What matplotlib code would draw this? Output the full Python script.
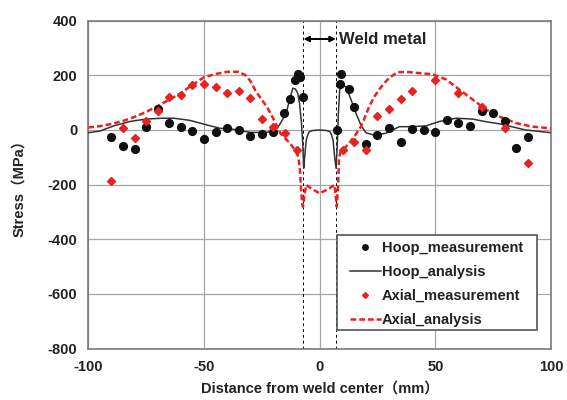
import matplotlib
matplotlib.use("Agg")
import matplotlib.pyplot as plt
from matplotlib.patches import Rectangle

plt.rcParams['font.family'] = ['Liberation Sans', 'Noto Sans CJK JP', 'DejaVu Sans']
plt.rcParams['font.weight'] = 'bold'
plt.rcParams['axes.unicode_minus'] = False

# Hoop stress, measured
hoop_meas_x = [-90, -85, -80, -75, -70, -65, -60, -55, -50, -45, -40, -35, -30, -25, -20,
               -15.4, -12.8, -10.7, -9.5, -8.5, -7.3,
               7.7, 8.6, 9.4, 12.5, 14.7, 20, 25, 30, 35, 40, 45, 50, 55, 60, 65, 70, 75, 80, 85, 90]
hoop_meas_y = [-25, -58, -68, 10, 77, 27, 10, -4, -32, -6, 9, 1, -22, -15, -6,
               62, 112, 182, 205, 195, 122,
               0, 170, 205, 150, 83, -53, -19, 7, -43, 2, 0, -6, 35, 25, 15, 69, 62, 31, -65, -27]

# Hoop stress, analysis
hoop_ana_x = [-100, -95, -89, -82, -75, -68, -63, -56, -49, -43, -37, -30, -23, -19.5, -17.4,
              -14.5, -13, -11.6, -10.5, -9.5, -8.7, -7.9, -7.3, -6.9, -6.5, -5.8, -5, -4.4, -3,
              0, 3, 4.4, 5, 5.8, 6.5, 7.1, 7.6, 8.1, 8.6, 9.0, 9.8, 11.4, 13.6, 16, 18, 20,
              23.6, 28.6, 34.4, 40, 46, 51.7, 59, 66, 72, 78, 89, 100]
hoop_ana_y = [-10, -4, 15, 31, 40, 43, 43, 35, 19, 6, 2, -9, -9, -2, 18,
              61, 110, 153, 150, 135, 98, 30, -49, -140, -100, -37, -15, -6, -2,
              0, -2, -6, -15, -37, -100, -140, -60, 60, 140, 165, 163, 158, 110, 55, 15, -10,
              -19, -12, 12, 12, 15, 31, 43, 40, 30, 22, 0, -10]

# Axial stress, measured
axial_meas_x = [-90, -85, -80, -75, -70, -65, -60, -55, -50, -45, -40, -35, -30, -25, -20, -15, -10,
                10, 15, 20, 25, 30, 35, 40, 50, 60, 70, 80, 90]
axial_meas_y = [-185, 9, -31, 31, 68, 120, 127, 163, 168, 158, 137, 143, 118, 41, 10, -12, -74,
                -74, -45, -74, 52, 78, 115, 141, 184, 135, 83, 7, -120]

# Axial stress, analysis
axial_ana_x = [-100, -95, -90, -85, -80, -75, -70, -65, -60, -55, -50, -45, -40, -35, -32, -30,
               -27.5, -25, -22.5, -20.5, -18.5, -17, -15, -12.8, -10.5, -9.2, -8.5, -8, -7.6, -7.2,
               -6.6, -5.8, -3.7, 0, 4.2, 6.4, 6.9, 7.4, 8.0, 8.4, 9.1, 11.3, 13, 14.9, 16.5, 17.8,
               19.5, 21.4, 23.5, 25.7, 28, 30.1, 33.7, 38.7, 43, 48.8, 54.6, 60.4, 66.2, 72, 77.7,
               85, 92, 100]
axial_ana_y = [9, 14, 22, 33, 48, 66, 88, 111, 135, 165, 193, 205, 213, 213, 200, 180,
               140, 111, 80, 49, 15, -12, -30, -49, -75, -99, -150, -220, -268, -281,
               -240, -201, -214, -232, -214, -201, -240, -281, -200, -100, -79, -62, -45, -25, -5, 12,
               45, 86, 120, 148, 172, 191, 212, 212, 208, 204, 185, 148, 111, 74, 49,
               25, 12, 6]

weld_edges = [-7, 7]
x_ticks = [-100, -50, 0, 50, 100]
y_ticks = [-800, -600, -400, -200, 0, 200, 400]

red = '#e8221f'
dark = '#333333'

fig = plt.figure(figsize=(5.67, 4.0), dpi=100)
ax = fig.add_axes([88.3 / 567, 1 - 348.5 / 400, (551 - 88.3) / 567, (348.5 - 20.7) / 400])

ax.set_xlim(-100, 100)
ax.set_ylim(-800, 400)
ax.set_xticks(x_ticks)
ax.set_yticks(y_ticks)
ax.grid(True, color='#a6a6a6', lw=0.9)
ax.set_axisbelow(True)
ax.tick_params(length=0, pad=8, labelsize=10.5, labelcolor='#222222')
for lab in ax.get_xticklabels() + ax.get_yticklabels():
    lab.set_fontweight('bold')
for sp in ax.spines.values():
    sp.set_color('#7a7a7a')
    sp.set_linewidth(1.2)

for xe in weld_edges:
    ax.axvline(xe, color='black', lw=0.7, dashes=(3, 3), zorder=1.5)

ax.plot(hoop_meas_x, hoop_meas_y, 'o', color='#111111', ms=5.6, ls='none',
        label='Hoop_measurement', zorder=4)
ax.plot(hoop_ana_x, hoop_ana_y, '-', color=dark, lw=1.1, label='Hoop_analysis', zorder=3)
ax.plot(axial_meas_x, axial_meas_y, 'D', color=red, ms=4.2, ls='none',
        label='Axial_measurement', zorder=4)
ax.plot(axial_ana_x, axial_ana_y, color=red, lw=1.8, dashes=(2.3, 1.2),
        label='Axial_analysis', zorder=3)

ax.annotate('', xy=(weld_edges[0], 333), xytext=(weld_edges[1], 333),
            arrowprops=dict(arrowstyle='<|-|>', color='black', lw=1.4,
                            mutation_scale=8, shrinkA=0, shrinkB=0))
ax.text(8.4, 333, 'Weld metal', fontsize=12, fontweight='bold', va='center', ha='left',
        color='#222222')

ax.set_xlabel('Distance from weld center（mm）', fontsize=10.5, fontweight='bold',
              color='#222222', labelpad=6)
ax.set_ylabel('Stress（MPa）', fontsize=10.5, fontweight='bold', color='#222222', labelpad=15)

# Legend box drawn as its own patch so the entries can sit with a wider left margin
ax.add_patch(Rectangle((0.5375, 0.0564), 0.4322, 0.2898, transform=ax.transAxes,
                       facecolor='white', edgecolor='#555555', lw=1.2, zorder=5))
leg = ax.legend(loc='upper left', bbox_to_anchor=(0.5656, 0.328), borderaxespad=0,
                borderpad=0, fontsize=10.5, frameon=False, numpoints=1,
                handlelength=2.1, handletextpad=0.1, labelspacing=0.68, markerscale=0.7)
leg.set_zorder(6)
for t in leg.get_texts():
    t.set_fontweight('bold')
    t.set_color('#222222')

fig.savefig('out.png', dpi=100, facecolor='white')
